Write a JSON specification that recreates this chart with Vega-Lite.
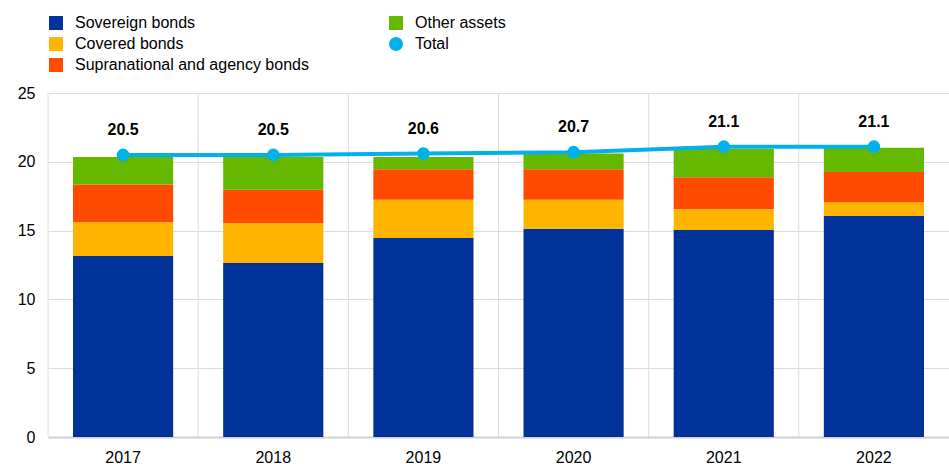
{
  "$schema": "https://vega.github.io/schema/vega-lite/v6.json",
  "width": 901,
  "height": 344,
  "autosize": "none",
  "padding": {"left": 48, "top": 93, "right": 0, "bottom": 27},
  "background": "white",
  "config": {
    "font": "Liberation Sans",
    "view": {"stroke": null}
  },
  "datasets": {
    "bars": [
      {"year": "2017", "series": "Sovereign bonds", "value": 13.15},
      {"year": "2017", "series": "Covered bonds", "value": 2.45},
      {"year": "2017", "series": "Supranational and agency bonds", "value": 2.75},
      {"year": "2017", "series": "Other assets", "value": 2.0},
      {"year": "2018", "series": "Sovereign bonds", "value": 12.65},
      {"year": "2018", "series": "Covered bonds", "value": 2.9},
      {"year": "2018", "series": "Supranational and agency bonds", "value": 2.42},
      {"year": "2018", "series": "Other assets", "value": 2.38},
      {"year": "2019", "series": "Sovereign bonds", "value": 14.46},
      {"year": "2019", "series": "Covered bonds", "value": 2.79},
      {"year": "2019", "series": "Supranational and agency bonds", "value": 2.2},
      {"year": "2019", "series": "Other assets", "value": 0.9},
      {"year": "2020", "series": "Sovereign bonds", "value": 15.14},
      {"year": "2020", "series": "Covered bonds", "value": 2.11},
      {"year": "2020", "series": "Supranational and agency bonds", "value": 2.2},
      {"year": "2020", "series": "Other assets", "value": 1.15},
      {"year": "2021", "series": "Sovereign bonds", "value": 15.04},
      {"year": "2021", "series": "Covered bonds", "value": 1.53},
      {"year": "2021", "series": "Supranational and agency bonds", "value": 2.3},
      {"year": "2021", "series": "Other assets", "value": 2.06},
      {"year": "2022", "series": "Sovereign bonds", "value": 16.06},
      {"year": "2022", "series": "Covered bonds", "value": 1.0},
      {"year": "2022", "series": "Supranational and agency bonds", "value": 2.2},
      {"year": "2022", "series": "Other assets", "value": 1.77}
    ],
    "total": [
      {"year": "2017", "series": "Total", "total": 20.5},
      {"year": "2018", "series": "Total", "total": 20.5},
      {"year": "2019", "series": "Total", "total": 20.6},
      {"year": "2020", "series": "Total", "total": 20.7},
      {"year": "2021", "series": "Total", "total": 21.1},
      {"year": "2022", "series": "Total", "total": 21.1}
    ]
  },
  "encoding": {
    "x": {
      "field": "year",
      "type": "nominal",
      "scale": {"paddingInner": 0, "paddingOuter": 0},
      "axis": {
        "title": null,
        "labelAngle": 0,
        "labelFontSize": 16,
        "labelColor": "#000000",
        "labelPadding": 12,
        "ticks": false,
        "grid": false,
        "domain": true,
        "domainColor": "#d0d0d0",
        "domainWidth": 2
      }
    }
  },
  "layer": [
    {
      "data": {"name": "total"},
      "mark": {"type": "rule", "color": "#dcdcdc", "strokeWidth": 1},
      "encoding": {
        "x": {"field": "year", "type": "nominal", "bandPosition": 0}
      }
    },
    {
      "data": {"name": "bars"},
      "transform": [
        {"calculate": "indexof(['Sovereign bonds','Covered bonds','Supranational and agency bonds','Other assets'], datum.series)", "as": "ord"}
      ],
      "mark": {"type": "bar", "width": {"band": 0.667}},
      "encoding": {
        "y": {
          "field": "value",
          "type": "quantitative",
          "stack": "zero",
          "scale": {"domain": [0, 25], "nice": false},
          "axis": {
            "title": null,
            "values": [0, 5, 10, 15, 20, 25],
            "labelFontSize": 16,
            "labelColor": "#000000",
            "labelPadding": 13,
            "ticks": false,
            "domain": false,
            "grid": true,
            "gridColor": "#dcdcdc"
          }
        },
        "order": {"field": "ord", "type": "quantitative"},
        "color": {
          "field": "series",
          "type": "nominal",
          "scale": {
            "domain": ["Sovereign bonds", "Covered bonds", "Supranational and agency bonds", "Other assets", "Total"],
            "range": ["#003299", "#FFB400", "#FF4B00", "#65B800", "#00B1EA"]
          },
          "legend": {
            "title": null,
            "orient": "none",
            "legendX": 0,
            "legendY": -78,
            "columns": 2,
            "columnPadding": 79,
            "rowPadding": 5,
            "padding": 0,
            "labelFontSize": 16,
            "labelColor": "#000000",
            "labelOffset": 11,
            "symbolSize": 196,
            "symbolType": "square",
            "symbolStrokeWidth": 0,
            "symbolOpacity": 1,
            "labelLimit": 400,
            "encode": {
              "symbols": {
                "update": {
                  "shape": {"signal": "datum.value === 'Total' ? 'circle' : 'square'"}
                }
              }
            }
          }
        }
      }
    },
    {
      "data": {"name": "total"},
      "mark": {"type": "line", "strokeWidth": 4, "color": "#00B1EA"},
      "encoding": {
        "y": {"field": "total", "type": "quantitative"}
      }
    },
    {
      "data": {"name": "total"},
      "mark": {"type": "point", "filled": true, "size": 160, "opacity": 1},
      "encoding": {
        "y": {"field": "total", "type": "quantitative"},
        "color": {"field": "series", "type": "nominal"}
      }
    },
    {
      "data": {"name": "total"},
      "mark": {"type": "text", "dy": -25, "fontSize": 16, "fontWeight": "bold", "color": "#000000"},
      "encoding": {
        "y": {"field": "total", "type": "quantitative"},
        "text": {"field": "total", "type": "quantitative", "format": ".1f"}
      }
    }
  ]
}
